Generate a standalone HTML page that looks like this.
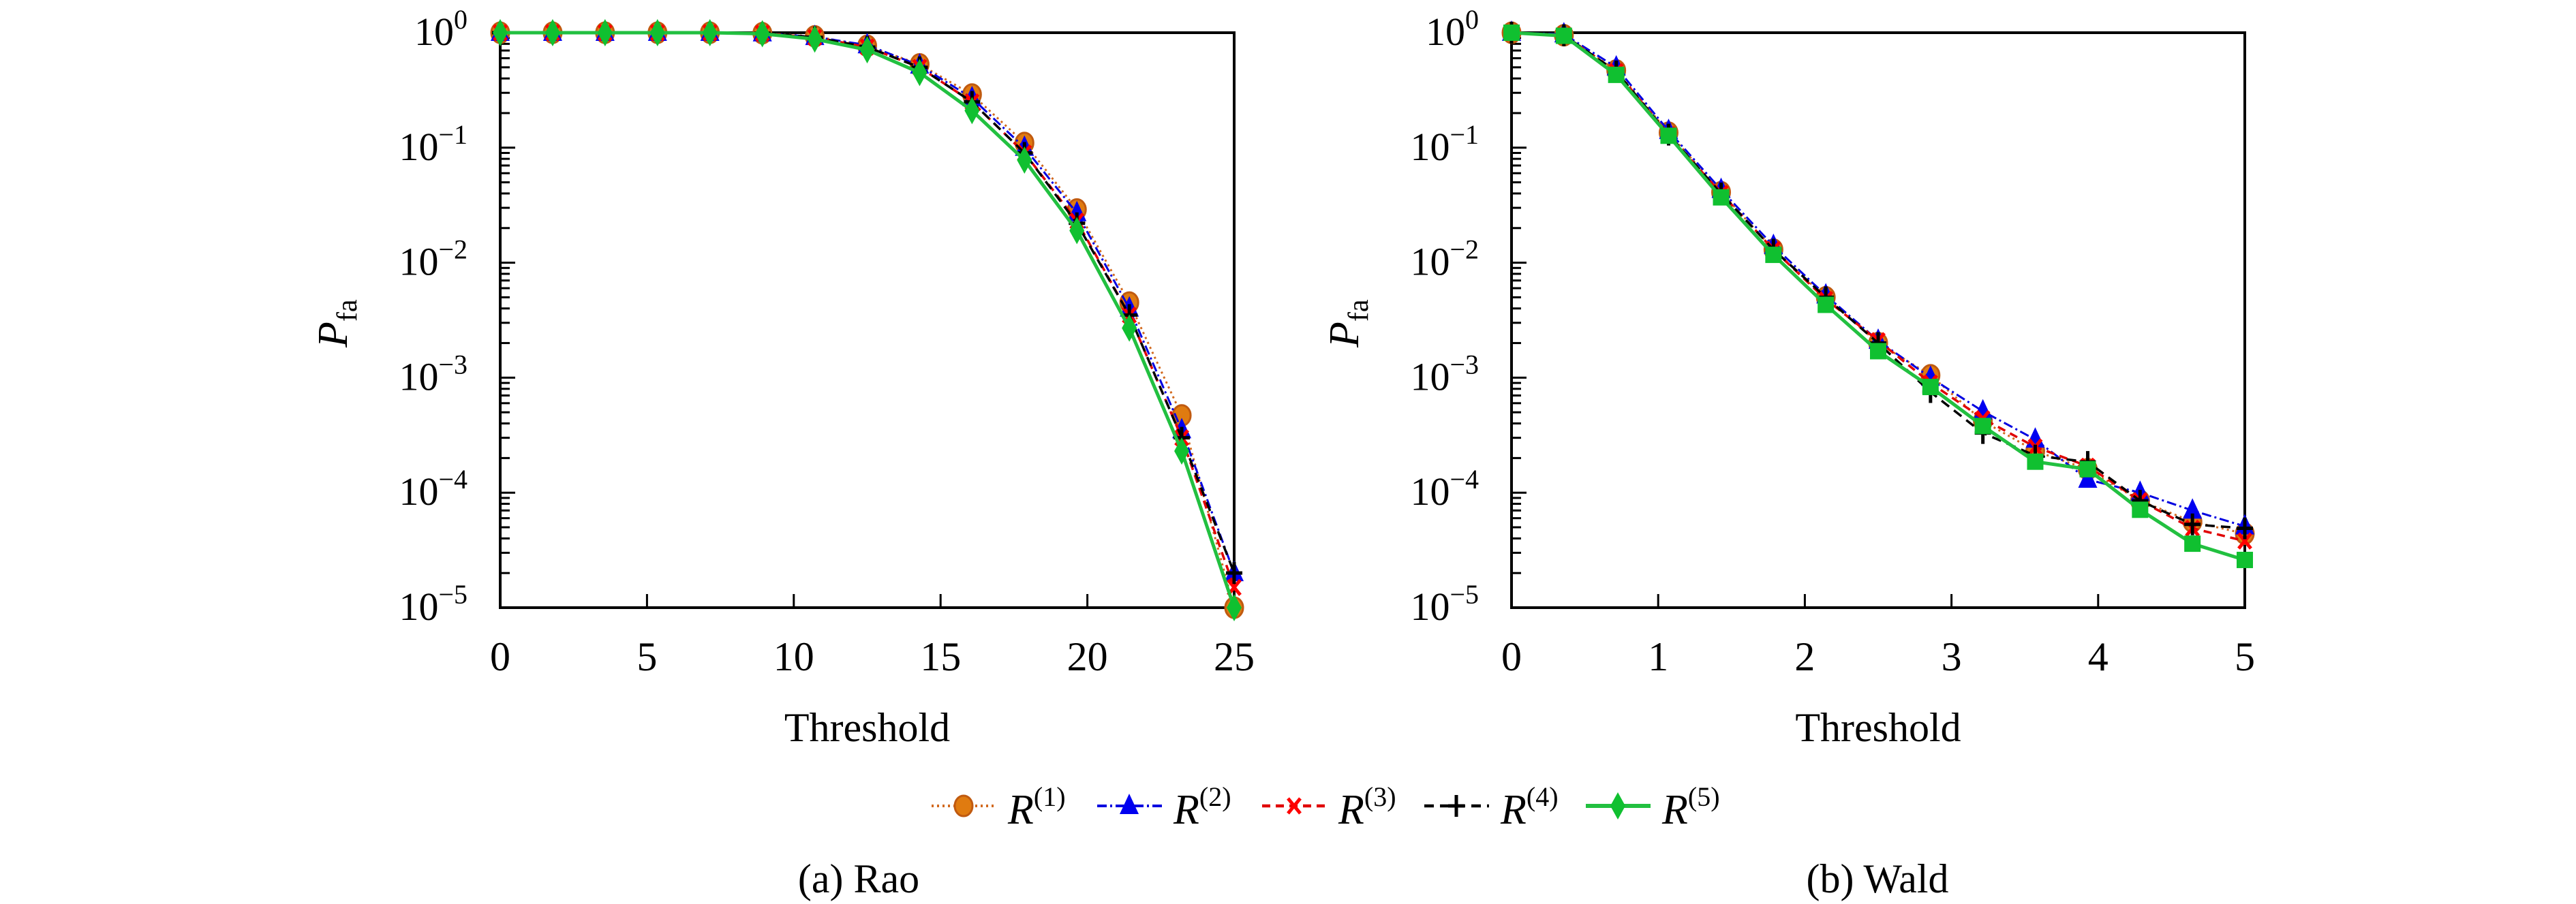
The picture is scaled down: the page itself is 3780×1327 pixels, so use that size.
<!DOCTYPE html>
<html><head><meta charset="utf-8"><style>
body{margin:0;background:#fff}
svg{display:block}
text{font-family:"Liberation Serif","DejaVu Serif","Times New Roman",serif;fill:#000}
</style></head><body>
<svg id="chart" width="3780" height="1327" viewBox="0 0 3780 1327" font-family="Liberation Serif, DejaVu Serif, serif"></svg>
<script>
const raoX = [0,1.786,3.571,5.357,7.143,8.929,10.714,12.5,14.286,16.071,17.857,19.643,21.429,23.214,25];
const raoR1 = [1,1,1,1,1,0.99,0.93,0.77,0.53,0.29,0.11,0.029,0.0045,4.7e-4,1e-5];
const raoR2 = [1,1,1,1,1,0.99,0.92,0.78,0.52,0.27,0.10,0.027,0.004,3.5e-4,2e-5];
const raoR3 = [1,1,1,1,1,0.99,0.91,0.75,0.50,0.25,0.09,0.023,0.0035,3e-4,1.5e-5];
const raoR4 = [1,1,1,1,1,0.99,0.91,0.75,0.50,0.25,0.09,0.022,0.0035,3e-4,2e-5];
const raoR5 = [1,1,1,1,1,0.98,0.88,0.71,0.45,0.21,0.078,0.019,0.0027,2.3e-4,1e-5];
const waldX = [0,0.357,0.714,1.071,1.429,1.786,2.143,2.5,2.857,3.214,3.571,3.929,4.286,4.643,5];
const waldR1 = [1,0.95,0.47,0.135,0.041,0.013,0.005,0.002,1.05e-3,4.2e-4,2.3e-4,1.6e-4,8.5e-5,5.6e-5,4.4e-5];
const waldR2 = [1,0.97,0.50,0.14,0.043,0.014,0.0052,0.0021,1.0e-3,5.1e-4,2.9e-4,1.3e-4,1.0e-4,7e-5,5.1e-5];
const waldR3 = [1,0.95,0.46,0.13,0.040,0.013,0.0048,0.0021,9e-4,4.4e-4,2.5e-4,1.7e-4,8.5e-5,4.9e-5,3.8e-5];
const waldR4 = [1,0.95,0.46,0.13,0.040,0.013,0.005,0.002,7.5e-4,3.3e-4,2.1e-4,1.85e-4,8.5e-5,5.3e-5,4.9e-5];
const waldR5 = [1,0.94,0.43,0.127,0.037,0.0117,0.0043,0.0017,8.3e-4,3.8e-4,1.86e-4,1.6e-4,7.1e-5,3.6e-5,2.6e-5];
const raoTicks = [0,5,10,15,20,25];
const waldTicks = [0,1,2,3,4,5];
const yExps = [0,-1,-2,-3,-4,-5];
const seriesNames = ["R1","R2","R3","R4","R5"];

const NS="http://www.w3.org/2000/svg";
const svg=document.getElementById('chart');
function mk(tag,attrs,parent){const e=document.createElementNS(NS,tag);for(const k in attrs)e.setAttribute(k,attrs[k]);(parent||svg).appendChild(e);return e;}

const styles=[
 {c:"#d2691e",fill:"#e07b10",dash:"3,5",w:3,m:"circle"},
 {c:"#0000e0",fill:"#0000f0",dash:"14,5,3,5",w:3,m:"tri"},
 {c:"#e00000",fill:"#ff0000",dash:"12,8",w:3.5,m:"x"},
 {c:"#000",fill:"#000",dash:"14,9",w:3.5,m:"plus"},
 {c:"#22c040",fill:"#10c030",dash:"",w:5,m:"dia"}
];
function marker(g,type,x,y,st){
  let e;
  if(type==="circle"){e=mk('ellipse',{cx:x,cy:y,rx:13,ry:15,fill:st.fill,stroke:"#c05a10","stroke-width":3},g);}
  else if(type==="tri"){e=mk('polygon',{points:`${x},${y-18} ${x-14},${y+12} ${x+14},${y+12}`,fill:st.fill},g);}
  else if(type==="x"){e=mk('path',{d:`M${x-9},${y-11}L${x+9},${y+11}M${x+9},${y-11}L${x-9},${y+11}`,stroke:st.fill,"stroke-width":5},g);}
  else if(type==="plus"){e=mk('path',{d:`M${x-12},${y}L${x+12},${y}M${x},${y-16}L${x},${y+16}`,stroke:"#000","stroke-width":5},g);}
  else if(type==="dia"){e=mk('polygon',{points:`${x},${y-20} ${x+11},${y} ${x},${y+20} ${x-11},${y}`,fill:st.fill},g);}
  else if(type==="sq"){e=mk('rect',{x:x-12,y:y-12,width:24,height:24,fill:st.fill},g);}
  
  
}

function panel(opt){
  const {L,R,T,B,xmax,xs,series,ticks,name,r5m}=opt;
  const g=mk('g',{});
  
  
  const sx=v=>L+(v/xmax)*(R-L);
  const sy=v=>T+(-Math.log10(v))/5*(B-T);
  for(let d=0;d>-5;d--){for(let k=2;k<=9;k++){const y=sy(k*Math.pow(10,d-1));mk('line',{x1:L,x2:L+14,y1:y,y2:y,stroke:"#000","stroke-width":3},g);}}
  yExps.forEach(ex=>{const y=sy(Math.pow(10,ex));
    mk('line',{x1:L,x2:L+22,y1:y,y2:y,stroke:"#000","stroke-width":3},g);
    const t=mk('text',{x:L-48,y:y+18,"text-anchor":"end","font-size":58},g);
    
    t.innerHTML=`10<tspan dy="-24" font-size="40">${ex===0?"0":"\u2212"+(-ex)}</tspan>`;
  });
  ticks.forEach(v=>{const x=sx(v);
    mk('line',{x1:x,x2:x,y1:B,y2:B-20,stroke:"#000","stroke-width":3},g);
    const t=mk('text',{x:x,y:B+92,"text-anchor":"middle","font-size":60},g);t.textContent=v;
    
  });
  const fr=mk('rect',{x:L,y:T,width:R-L,height:B-T,fill:"none",stroke:"#000","stroke-width":4},g);
  
  series.forEach((arr,i)=>{const st=styles[i];
    const sg=mk('g',{},g);
    
    
    const pts=arr.map((v,j)=>sx(xs[j])+","+sy(v)).join(" ");
    const pl=mk('polyline',{points:pts,fill:"none",stroke:st.c,"stroke-width":st.w,"stroke-dasharray":st.dash},sg);
    
    arr.forEach((v,j)=>marker(sg,i===4?r5m:st.m,sx(xs[j]),sy(v),st));
  });
  const xl=mk('text',{x:(L+R)/2,y:1088,"text-anchor":"middle","font-size":60},g);xl.textContent="Threshold";
  
  const yl=mk('text',{x:0,y:0,"font-size":62,transform:`translate(${L-225},${(T+B)/2+40}) rotate(-90)`},g);
  
  yl.innerHTML=`<tspan font-style="italic">P</tspan><tspan dy="14" font-size="42">fa</tspan>`;
}
panel({L:734,R:1811,T:48,B:892,xmax:25,xs:raoX,series:[raoR1,raoR2,raoR3,raoR4,raoR5],ticks:raoTicks,name:"rao-panel",r5m:"dia"});
panel({L:2218,R:3294,T:48,B:892,xmax:5,xs:waldX,series:[waldR1,waldR2,waldR3,waldR4,waldR5],ticks:waldTicks,name:"wald-panel",r5m:"sq"});

const lg=mk('g',{});


const lx=[1367,1610,1852,2090,2327];
styles.forEach((st,i)=>{
  const x0=lx[i],y=1183;
  const e=mk('g',{},lg);
  
  
  mk('line',{x1:x0,x2:x0+95,y1:y,y2:y,stroke:st.c,"stroke-width":st.w+1,"stroke-dasharray":st.dash},e);
  marker(e,st.m,x0+47,y,st);
  const t=mk('text',{x:x0+112,y:y+26,"font-size":62},e);
  t.innerHTML=`<tspan font-style="italic">R</tspan><tspan dy="-26" font-size="40">(${i+1})</tspan>`;
});
const c1=mk('text',{x:1260,y:1310,"text-anchor":"middle","font-size":60});c1.textContent="(a) Rao";

const c2=mk('text',{x:2755,y:1310,"text-anchor":"middle","font-size":60});c2.textContent="(b) Wald";

</script>
</body></html>
